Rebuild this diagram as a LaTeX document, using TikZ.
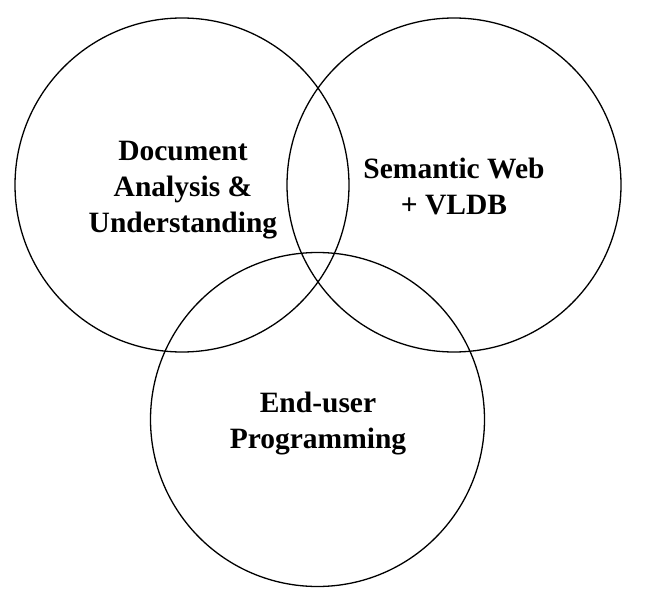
\documentclass[tikz,border=0pt]{standalone}
\usepackage{fontspec}
\setmainfont{Liberation Serif}
\begin{document}
\begin{tikzpicture}[x=1pt,y=-1pt,
  ring/.style={draw=black,line width=1.3pt,circle,minimum size=334pt,inner sep=0pt},
  lbl/.style={align=center,inner sep=0pt,font=\bfseries\fontsize{29.5}{36}\selectfont}]
\useasboundingbox (0,0) rectangle (648,591);
\node[ring] (left) at (182,185) {};
\node[ring] (right) at (454,185) {};
\node[ring] (bottom) at (317.5,419.5) {};
\node[lbl] (t1) at (183,190) {Document\\Analysis \&\\Understanding};
\node[lbl] (t2) at (454,186) {Semantic Web\\+ VLDB};
\node[lbl] (t3) at (318,424) {End-user\\Programming};
\end{tikzpicture}
\end{document}
